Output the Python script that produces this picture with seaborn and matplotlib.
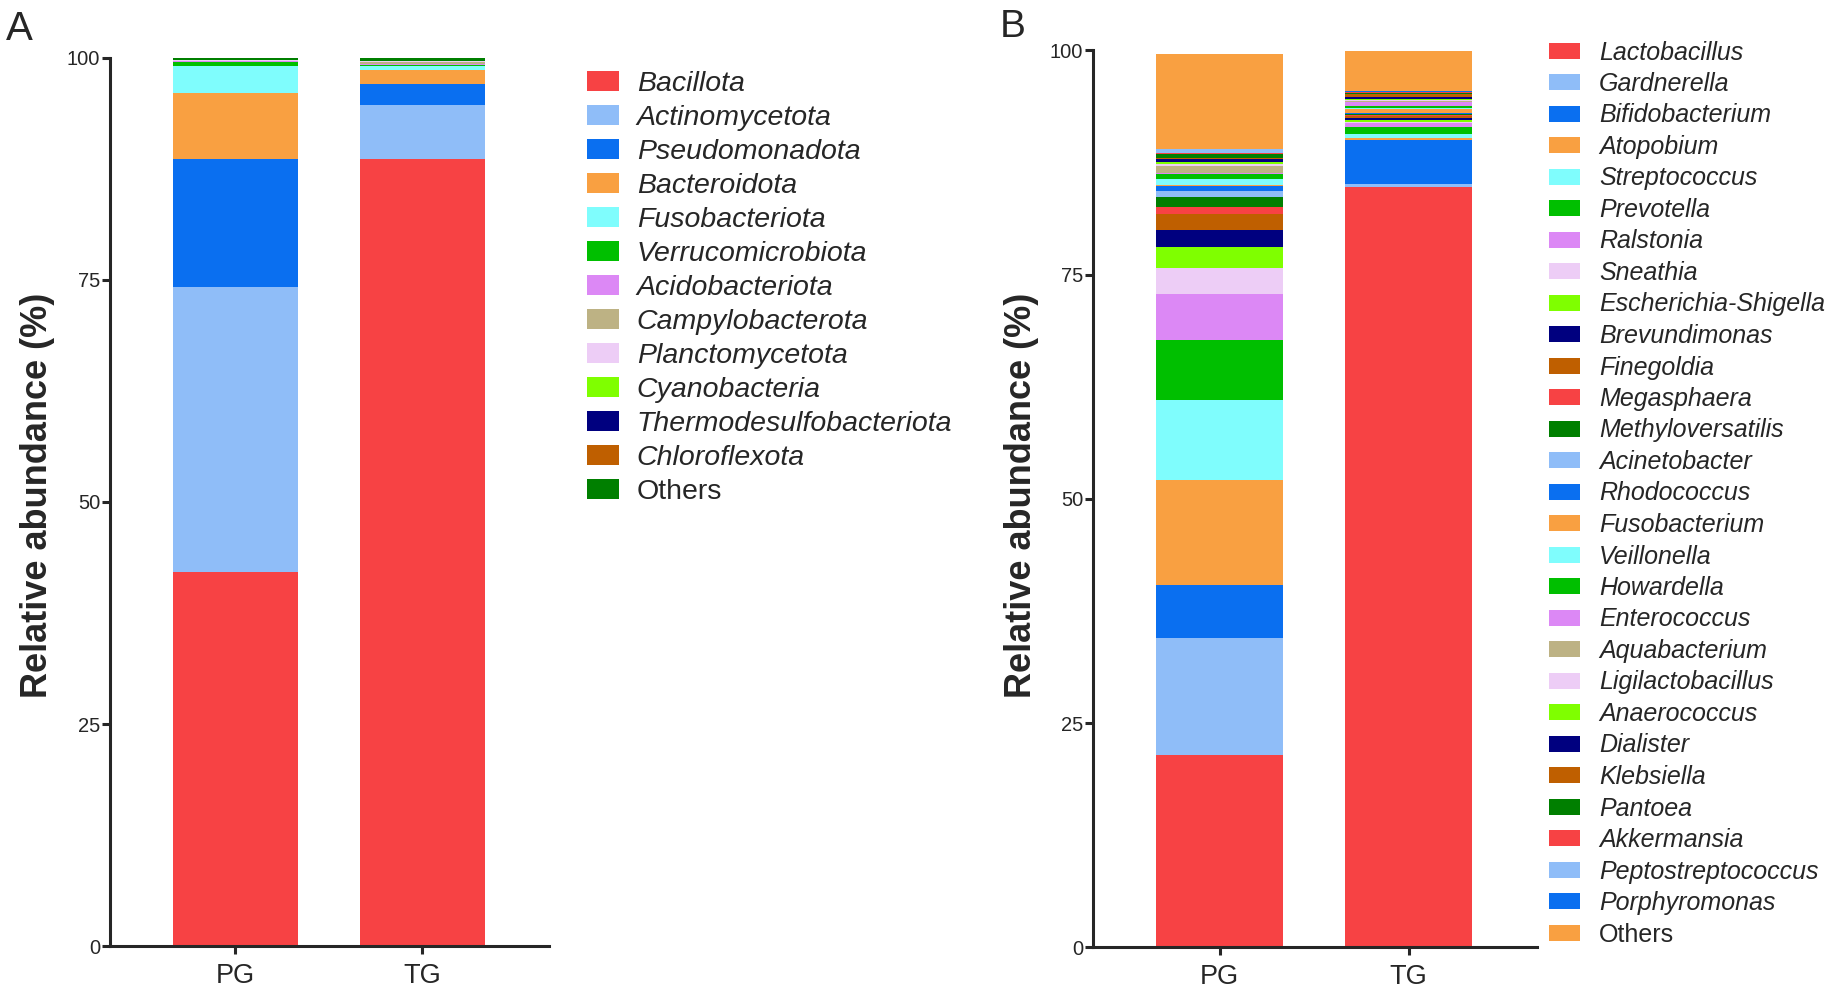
import numpy as np
import pandas as pd
import seaborn as sns
import matplotlib.pyplot as plt
from matplotlib.patches import Patch
from matplotlib.font_manager import FontProperties

groups = ['PG', 'TG']

# Panel A: phylum level
phyla = ['Bacillota', 'Actinomycetota', 'Pseudomonadota', 'Bacteroidota', 'Fusobacteriota',
         'Verrucomicrobiota', 'Acidobacteriota', 'Campylobacterota', 'Planctomycetota',
         'Cyanobacteria', 'Thermodesulfobacteriota', 'Chloroflexota', 'Others']
phyla_pg = [42.1, 32.1, 14.4, 7.5, 3.0, 0.5, 0.05, 0.05, 0.03, 0.03, 0.02, 0.02, 0.2]
phyla_tg = [88.6, 6.1, 2.4, 1.5, 0.5, 0.15, 0.1, 0.15, 0.15, 0.02, 0.02, 0.02, 0.3]
phyla_colors = ['#F74244', '#8FBDF8', '#0A6FF0', '#F9A041', '#7FFDFD', '#00BF00', '#DC88F5',
                '#BDB284', '#EDCDF6', '#7FFF00', '#00007F', '#BF5F00', '#007F00']

# Panel B: genus level
genera = ['Lactobacillus', 'Gardnerella', 'Bifidobacterium', 'Atopobium', 'Streptococcus',
          'Prevotella', 'Ralstonia', 'Sneathia', 'Escherichia-Shigella', 'Brevundimonas',
          'Finegoldia', 'Megasphaera', 'Methyloversatilis', 'Acinetobacter', 'Rhodococcus',
          'Fusobacterium', 'Veillonella', 'Howardella', 'Enterococcus', 'Aquabacterium',
          'Ligilactobacillus', 'Anaerococcus', 'Dialister', 'Klebsiella', 'Pantoea',
          'Akkermansia', 'Peptostreptococcus', 'Porphyromonas', 'Others']
genera_pg = [21.4, 13.1, 5.9, 11.7, 8.9, 6.7, 5.1, 2.9, 2.4, 1.9,
             1.7, 0.8, 1.1, 0.7, 0.6, 0.05, 0.65, 0.6, 0.1, 0.8,
             0.25, 0.15, 0.4, 0.05, 0.45, 0.2, 0.4, 0.05, 10.55]
genera_tg = [84.8, 0.25, 4.95, 0.2, 0.5, 0.75, 0.45, 0.1, 0.2, 0.3,
             0.15, 0.1, 0.1, 0.1, 0.1, 0.45, 0.1, 0.2, 0.45, 0.15,
             0.1, 0.1, 0.2, 0.35, 0.1, 0.05, 0.05, 0.1, 4.45]
genera_colors = ['#F74244', '#8FBDF8', '#0A6FF0', '#F9A041', '#7FFDFD', '#00BF00', '#DC88F5',
                 '#EDCDF6', '#7FFF00', '#00007F', '#BF5F00', '#F74244', '#007F00', '#8FBDF8',
                 '#0A6FF0', '#F9A041', '#7FFDFD', '#00BF00', '#DC88F5', '#BDB284', '#EDCDF6',
                 '#7FFF00', '#00007F', '#BF5F00', '#007F00', '#F74244', '#8FBDF8', '#0A6FF0',
                 '#F9A041']

sns.set_style('ticks')
plt.rcParams['font.family'] = ['Liberation Sans', 'DejaVu Sans']

W, H = 1831, 991
fig = plt.figure(figsize=(W / 100, H / 100), dpi=100)


def stacked(ax, names, pg, tg, colors):
    df = pd.DataFrame({'PG': pg, 'TG': tg}, index=names)
    cum = df.cumsum()
    # draw the tallest cumulative layer first so the lower ones sit on top of it
    for i in range(len(names) - 1, -1, -1):
        sns.barplot(x=groups, y=cum.iloc[i].values, color=colors[i], saturation=1,
                    width=0.67, errorbar=None, linewidth=0, ax=ax)
    ax.set_xlim(-0.67, 1.68)
    ax.set_ylim(0, 100)
    ax.set_yticks([0, 25, 50, 75, 100])
    ax.set_xlabel('')
    ax.set_ylabel('Relative abundance (%)', fontsize=26, fontweight='bold')
    sns.despine(ax=ax)
    for s in ['left', 'bottom']:
        ax.spines[s].set_linewidth(2.2)
    ax.tick_params(axis='y', labelsize=14.5, length=6, width=2.2, pad=1)
    ax.tick_params(axis='x', labelsize=19.5, length=6, width=2.2, pad=6)


def legend(ax, names, colors, size, x, y, hl, hh, tp, ls):
    handles = [Patch(facecolor=c, edgecolor='none') for c in colors]
    leg = ax.legend(handles, names, loc='upper left', bbox_to_anchor=(x / W, 1 - y / H),
                    bbox_transform=fig.transFigure, frameon=False, borderpad=0,
                    borderaxespad=0, handlelength=hl, handleheight=hh, handletextpad=tp,
                    labelspacing=ls,
                    prop=FontProperties(family='Liberation Sans', style='italic', size=size))
    for t in leg.get_texts():
        if t.get_text() == 'Others':
            t.set_fontstyle('normal')


axA = fig.add_axes([110 / W, 45 / H, 439.5 / W, 888 / H])
stacked(axA, phyla, phyla_pg, phyla_tg, phyla_colors)
axA.yaxis.set_label_coords(55 / W, 0.5, transform=fig.transFigure)
legend(axA, phyla, phyla_colors, 20.5, 587, 71, 1.12, 0.71, 0.63, 0.28)

axB = fig.add_axes([1093 / W, 43.7 / H, 444 / W, 897 / H])
stacked(axB, genera, genera_pg, genera_tg, genera_colors)
axB.yaxis.set_label_coords(1039 / W, 0.5, transform=fig.transFigure)
legend(axB, genera, genera_colors, 18.0, 1549, 40.5, 1.24, 0.6, 0.76, 0.30)

fig.text(6 / W, 1 - 40 / H, 'A', fontsize=29, va='baseline')
fig.text(1000 / W, 1 - 37 / H, 'B', fontsize=28, va='baseline')

fig.savefig('out.png', dpi=100)
